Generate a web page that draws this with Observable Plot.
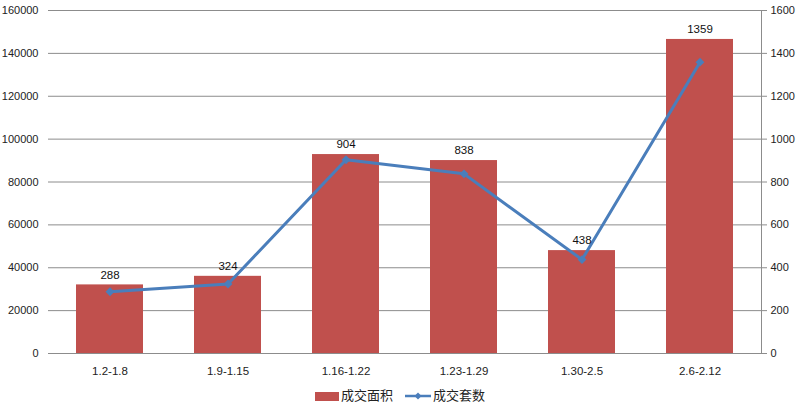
<!DOCTYPE html>
<html><head><meta charset="utf-8">
<script src="https://cdn.jsdelivr.net/npm/d3@7"></script>
<script src="https://cdn.jsdelivr.net/npm/@observablehq/plot@0.6"></script>
<style>
body{margin:0;background:#fff;font-family:"Noto Sans CJK SC","Noto Sans",sans-serif;}
#legend{display:flex;justify-content:center;align-items:center;gap:12px;font-size:13px;color:#222;height:29px;margin-left:0px}
.sw{display:inline-block;width:24px;height:9px;background:#C0504D;margin-right:2px;vertical-align:middle}
.ln{display:inline-flex;align-items:center;margin-right:2px;vertical-align:middle}
</style></head><body>
<div id="chart"></div>
<div id="legend">
 <span><span class="sw"></span>成交面积</span>
 <span><span class="ln"><svg width="26" height="10"><line x1="0" y1="5" x2="26" y2="5" stroke="#4A7EBB" stroke-width="2.5"/><path d="M13 1.5 L16.5 5 L13 8.5 L9.5 5Z" fill="#4A7EBB"/></svg></span>成交套数</span>
</div>
<script>
const categories = ["1.2-1.8","1.9-1.15","1.16-1.22","1.23-1.29","1.30-2.5","2.6-2.12"];
const area = [32000, 36000, 92800, 90000, 48000, 146500];
const counts = [288, 324, 904, 838, 438, 1359];
const leftTicks = [0,20000,40000,60000,80000,100000,120000,140000,160000];

const data = categories.map((c,i)=>({cat:c, area:area[i], count:counts[i], c100:counts[i]*100}));

const chart = Plot.plot({
  width: 800, height: 380,
  marginTop: 10, marginBottom: 27, marginLeft: 48, marginRight: 39,
  style: {fontFamily: "Liberation Sans, Arial, sans-serif", fontSize: "11px", color: "#222"},
  x: {domain: categories, paddingInner: 0.436, paddingOuter: 0.218, label: null},
  y: {domain: [0,160000], label: null},
  marks: [
    Plot.gridY(leftTicks, {stroke: "#8c8c8c", strokeOpacity: 1}),
    Plot.axisY(leftTicks, {anchor: "left", tickSize: 0, tickPadding: 10, tickFormat: d => String(d), label: null}),
    Plot.axisY(leftTicks, {anchor: "right", tickSize: 5, tickPadding: 4, tickFormat: d => String(d/100), label: null, stroke: "#8c8c8c"}),
    Plot.frame({anchor: "right", stroke: "#8c8c8c"}),
    Plot.axisX({tickSize: 0, tickPadding: 13, label: null, fontSize: 11.5}),
    Plot.barY(data, {x: "cat", y: "area", fill: "#C0504D"}),
    Plot.line(data, {x: "cat", y: "c100", stroke: "#4A7EBB", strokeWidth: 3}),
    Plot.dot(data, {x: "cat", y: "c100", symbol: "diamond2", r: 4, fill: "#4A7EBB", stroke: "none"}),
    Plot.text(data, {x: "cat", y: "area", text: d => String(d.count), dy: -10, fill: "#111", fontSize: 11.5})
  ]
});
document.getElementById("chart").appendChild(chart);
</script>
</body></html>
